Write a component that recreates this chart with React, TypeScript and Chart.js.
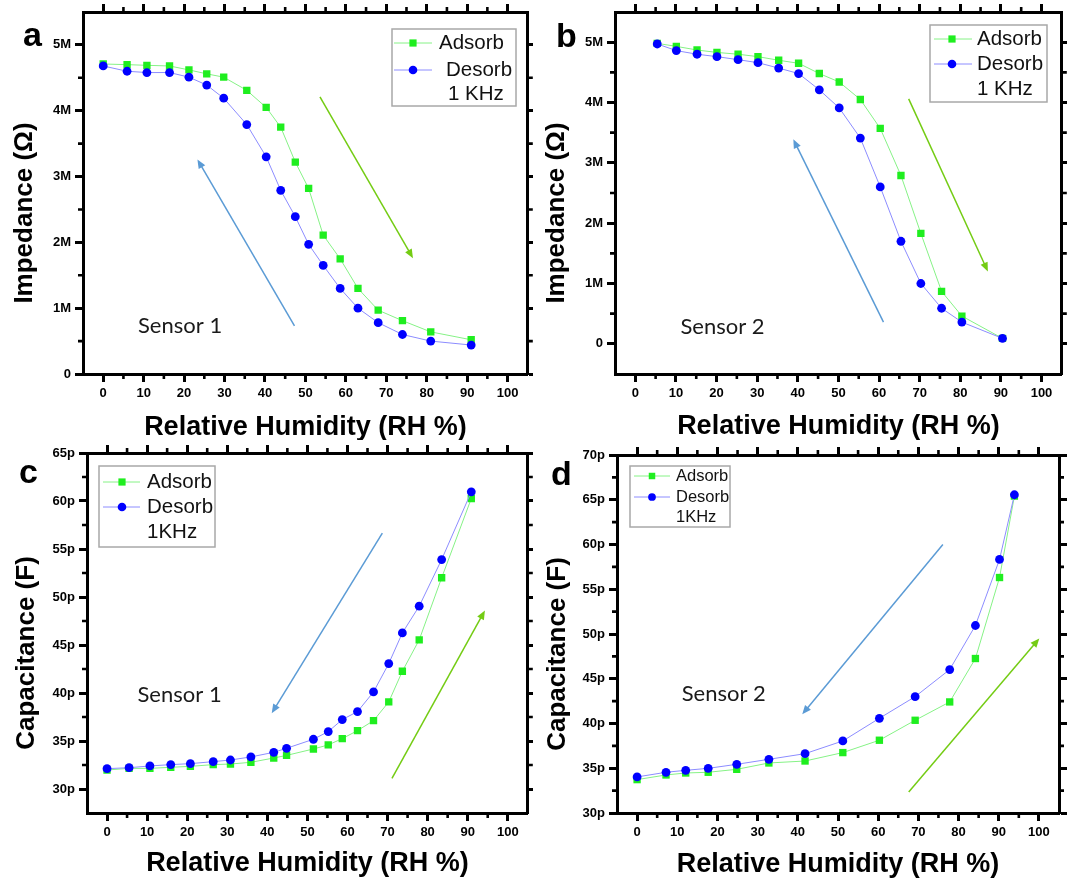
import React, { useEffect, useRef } from 'react';
import { Chart, registerables } from 'chart.js';

Chart.register(...registerables);

// ---------------- data ----------------
// Panel a – Sensor 1 impedance (MΩ) vs RH
const rhA = [0, 5.9, 10.8, 16.4, 21.2, 25.6, 29.8, 35.5, 40.3, 43.9, 47.5, 50.8, 54.4, 58.6, 63.0, 68.0, 74.0, 81.0, 91.0];
const zAdsorbA = [4.71, 4.70, 4.69, 4.68, 4.62, 4.56, 4.51, 4.31, 4.05, 3.75, 3.22, 2.82, 2.11, 1.75, 1.30, 0.97, 0.81, 0.64, 0.52];
const zDesorbA = [4.68, 4.60, 4.58, 4.58, 4.51, 4.39, 4.19, 3.79, 3.30, 2.79, 2.39, 1.97, 1.65, 1.30, 1.00, 0.78, 0.60, 0.50, 0.44];

// Panel b – Sensor 2 impedance (MΩ) vs RH
const rhB = [5.4, 10.1, 15.2, 20.1, 25.3, 30.2, 35.3, 40.2, 45.3, 50.2, 55.4, 60.3, 65.4, 70.3, 75.4, 80.4, 90.4];
const zAdsorbB = [4.98, 4.93, 4.87, 4.83, 4.80, 4.76, 4.70, 4.65, 4.48, 4.34, 4.05, 3.57, 2.79, 1.83, 0.87, 0.46, 0.09];
const zDesorbB = [4.97, 4.86, 4.80, 4.76, 4.71, 4.66, 4.57, 4.48, 4.21, 3.91, 3.41, 2.60, 1.70, 1.00, 0.59, 0.36, 0.09];

// Panel c – Sensor 1 capacitance (pF) vs RH
const rhC = [0, 5.5, 10.7, 15.9, 20.8, 26.5, 30.8, 35.9, 41.6, 44.8, 51.5, 55.2, 58.7, 62.5, 66.5, 70.3, 73.7, 77.9, 83.5, 90.9];
const cAdsorbC = [31.98, 32.15, 32.15, 32.26, 32.36, 32.54, 32.6, 32.78, 33.23, 33.5, 34.17, 34.59, 35.25, 36.08, 37.12, 39.07, 42.27, 45.53, 52.0, 60.26];
const cDesorbC = [32.12, 32.22, 32.4, 32.54, 32.64, 32.85, 33.02, 33.34, 33.82, 34.24, 35.18, 35.98, 37.23, 38.06, 40.11, 43.06, 46.26, 49.04, 53.9, 60.96];

// Panel d – Sensor 2 capacitance (pF) vs RH
const rhD = [0, 7.2, 12.1, 17.7, 24.8, 32.8, 41.8, 51.2, 60.3, 69.2, 77.8, 84.2, 90.2, 93.9];
const cAdsorbD = [33.73, 34.25, 34.47, 34.55, 34.88, 35.59, 35.81, 36.75, 38.13, 40.36, 42.41, 47.26, 56.31, 65.41];
const cDesorbD = [34.03, 34.55, 34.77, 34.99, 35.44, 36.0, 36.63, 38.05, 40.58, 43.0, 46.03, 50.95, 58.33, 65.56];

// ticks
const rhTicks = [0, 10, 20, 30, 40, 50, 60, 70, 80, 90, 100];
const rhMinor = [5, 15, 25, 35, 45, 55, 65, 75, 85, 95];
const impedanceTicks = [0, 1, 2, 3, 4, 5];
const impedanceMinor = [0.5, 1.5, 2.5, 3.5, 4.5];
const capTicksC = [30, 35, 40, 45, 50, 55, 60, 65];
const capMinorC = [32.5, 37.5, 42.5, 47.5, 52.5, 57.5, 62.5];
const capTicksD = [30, 35, 40, 45, 50, 55, 60, 65, 70];
const capMinorD = [32.5, 37.5, 42.5, 47.5, 52.5, 57.5, 62.5, 67.5];

// annotations in data coordinates: [x0, y0, x1(head), y1(head)]
const arrowsGreenA = [53.6, 4.21, 76.6, 1.76];
const arrowsBlueA = [47.3, 0.73, 23.3, 3.26];
const arrowsGreenB = [67.3, 4.06, 86.8, 1.2];
const arrowsBlueB = [61.1, 0.36, 38.9, 3.39];
const arrowsBlueC = [68.7, 56.65, 41.1, 37.9];
const arrowsGreenC = [71.1, 31.1, 94.3, 48.6];
const arrowsBlueD = [76.1, 60.0, 41.1, 41.03];
const arrowsGreenD = [67.6, 32.35, 100.1, 49.5];
const sensorAtA = [8.6, 0.625];
const sensorAtB = [11.1, 0.166];
const sensorAtC = [7.6, 39.03];
const sensorAtD = [11.1, 42.49];

const seriesLabels = ['Adsorb', 'Desorb'];

// ---------------- styles ----------------
const FONT = '"Liberation Sans", Arial, Helvetica, sans-serif';
const ADS_MARK = '#1fee1f';
const ADS_LINE = '#86f286';
const DES_MARK = '#0000ff';
const DES_LINE = '#8c8cff';
const ARROW_GREEN = '#74cc14';
const ARROW_BLUE = '#5b9bd5';

Chart.defaults.font.family = FONT;

const fmtM = (v: number) => (v === 0 ? '0' : `${v}M`);
const fmtP = (v: number) => `${v}p`;

type Panel = {
  letter: string;
  left: number; top: number; width: number; height: number;
  area: { l: number; t: number; r: number; b: number };
  yMin: number; yMax: number; yTicks: number[]; yMinor: number[]; yFmt: (v: number) => string;
  yTitle: string; xTitle: string; xTitleOffset: number; yTitleX: number;
  rh: number[]; ads: number[]; des: number[];
  freq: string; sensor: string; sensorAt: number[];
  arrows: { c: string; a: number[] }[];
  legend: { x: number; y: number; w: number; h: number; rows: number[]; lineX: number[]; markerX: number; textX: number[]; font: number; mk: number };
  letterAt: number[];
};

const panels: Panel[] = [
  {
    letter: 'a', left: 0, top: 0, width: 533, height: 440,
    area: { l: 83, t: 12, r: 530, b: 374 },
    yMin: 0, yMax: 5.5, yTicks: impedanceTicks, yMinor: impedanceMinor, yFmt: fmtM,
    yTitle: 'Impedance (Ω)', xTitle: 'Relative Humidity (RH %)', xTitleOffset: 12, yTitleX: 25,
    rh: rhA, ads: zAdsorbA, des: zDesorbA,
    freq: '1 KHz', sensor: 'Sensor 1', sensorAt: sensorAtA,
    arrows: [{ c: ARROW_GREEN, a: arrowsGreenA }, { c: ARROW_BLUE, a: arrowsBlueA }],
    legend: { x: 392, y: 29, w: 124, h: 77, rows: [43, 70, 94], lineX: [394, 432], markerX: 413, textX: [439, 446, 448], font: 20.5, mk: 1 },
    letterAt: [23, 46],
  },
  {
    letter: 'b', left: 533, top: 0, width: 534, height: 440,
    area: { l: 82, t: 12, r: 529, b: 374 },
    yMin: -0.5, yMax: 5.5, yTicks: impedanceTicks, yMinor: impedanceMinor, yFmt: fmtM,
    yTitle: 'Impedance (Ω)', xTitle: 'Relative Humidity (RH %)', xTitleOffset: 13, yTitleX: 557,
    rh: rhB, ads: zAdsorbB, des: zDesorbB,
    freq: '1 KHz', sensor: 'Sensor 2', sensorAt: sensorAtB,
    arrows: [{ c: ARROW_GREEN, a: arrowsGreenB }, { c: ARROW_BLUE, a: arrowsBlueB }],
    legend: { x: 930, y: 25, w: 117, h: 77, rows: [39, 64, 89], lineX: [934, 972], markerX: 952, textX: [977, 977, 977], font: 20.5, mk: 1 },
    letterAt: [556, 47],
  },
  {
    letter: 'c', left: 0, top: 440, width: 533, height: 439,
    area: { l: 87, t: 13, r: 529, b: 373 },
    yMin: 27.5, yMax: 65, yTicks: capTicksC, yMinor: capMinorC, yFmt: fmtP,
    yTitle: 'Capacitance (F)', xTitle: 'Relative Humidity (RH %)', xTitleOffset: 15, yTitleX: 27,
    rh: rhC, ads: cAdsorbC, des: cDesorbC,
    freq: '1KHz', sensor: 'Sensor 1', sensorAt: sensorAtC,
    arrows: [{ c: ARROW_BLUE, a: arrowsBlueC }, { c: ARROW_GREEN, a: arrowsGreenC }],
    legend: { x: 99, y: 466, w: 116, h: 81, rows: [482, 507, 532], lineX: [103, 140], markerX: 122, textX: [147, 147, 147], font: 20.5, mk: 1 },
    letterAt: [19, 483],
  },
  {
    letter: 'd', left: 533, top: 440, width: 534, height: 439,
    area: { l: 84, t: 15, r: 526, b: 373 },
    yMin: 30, yMax: 70, yTicks: capTicksD, yMinor: capMinorD, yFmt: fmtP,
    yTitle: 'Capacitance (F)', xTitle: 'Relative Humidity (RH %)', xTitleOffset: 14, yTitleX: 558,
    rh: rhD, ads: cAdsorbD, des: cDesorbD,
    freq: '1KHz', sensor: 'Sensor 2', sensorAt: sensorAtD,
    arrows: [{ c: ARROW_BLUE, a: arrowsBlueD }, { c: ARROW_GREEN, a: arrowsGreenD }],
    legend: { x: 630, y: 466, w: 100, h: 61, rows: [476, 497, 517], lineX: [634, 670], markerX: 652, textX: [676, 676, 676], font: 16.5, mk: 0.9 },
    letterAt: [551, 485],
  },
];

function drawArrow(ctx: CanvasRenderingContext2D, x0: number, y0: number, x1: number, y1: number, color: string) {
  const ang = Math.atan2(y1 - y0, x1 - x0);
  const hl = 9, hw = 3.8;
  const cos = Math.cos(ang), sin = Math.sin(ang);
  ctx.strokeStyle = color;
  ctx.fillStyle = color;
  ctx.lineWidth = 1.5;
  ctx.beginPath();
  ctx.moveTo(x0, y0);
  ctx.lineTo(x1 - hl * 0.7 * cos, y1 - hl * 0.7 * sin);
  ctx.stroke();
  ctx.beginPath();
  ctx.moveTo(x1, y1);
  ctx.lineTo(x1 - hl * cos + hw * sin, y1 - hl * sin - hw * cos);
  ctx.lineTo(x1 - hl * cos - hw * sin, y1 - hl * sin + hw * cos);
  ctx.closePath();
  ctx.fill();
}

function makeDecor(p: Panel) {
  return {
    id: 'decor' + p.letter,
    afterDraw(chart: any) {
      const ctx: CanvasRenderingContext2D = chart.ctx;
      const xs = chart.scales.x;
      const ys = chart.scales.y;
      const ca = chart.chartArea;
      const ox = p.left, oy = p.top;
      ctx.save();

      // minor ticks on all four sides
      ctx.strokeStyle = '#000';
      ctx.lineWidth = 2.6;
      ctx.beginPath();
      for (const v of rhMinor) {
        const px = xs.getPixelForValue(v);
        ctx.moveTo(px, ca.bottom + 1); ctx.lineTo(px, ca.bottom + 5);
        ctx.moveTo(px, ca.top - 1); ctx.lineTo(px, ca.top - 5);
      }
      for (const v of p.yMinor) {
        const py = ys.getPixelForValue(v);
        ctx.moveTo(ca.left - 1, py); ctx.lineTo(ca.left - 5, py);
        ctx.moveTo(ca.right + 1, py); ctx.lineTo(ca.right + 5, py);
      }
      ctx.stroke();

      // arrows
      for (const ar of p.arrows) {
        drawArrow(ctx, xs.getPixelForValue(ar.a[0]), ys.getPixelForValue(ar.a[1]),
          xs.getPixelForValue(ar.a[2]), ys.getPixelForValue(ar.a[3]), ar.c);
      }

      // sensor label
      ctx.fillStyle = '#1a1a1a';
      ctx.font = '22px Lato, "Open Sans", sans-serif';
      ctx.textAlign = 'left';
      ctx.textBaseline = 'alphabetic';
      ctx.fillText(p.sensor, xs.getPixelForValue(p.sensorAt[0]), ys.getPixelForValue(p.sensorAt[1]));

      // legend
      const L = p.legend;
      ctx.fillStyle = '#fff';
      ctx.fillRect(L.x - ox, L.y - oy, L.w, L.h);
      ctx.strokeStyle = '#a8a8a8';
      ctx.lineWidth = 1.5;
      ctx.strokeRect(L.x - ox, L.y - oy, L.w, L.h);
      const sty = [
        { line: ADS_LINE, mark: ADS_MARK, shape: 'rect' },
        { line: DES_LINE, mark: DES_MARK, shape: 'circle' },
      ];
      ctx.font = `${L.font}px ${FONT}`;
      ctx.textBaseline = 'middle';
      for (let i = 0; i < 2; i++) {
        const y = L.rows[i] - oy;
        ctx.strokeStyle = sty[i].line;
        ctx.lineWidth = 1;
        ctx.beginPath();
        ctx.moveTo(L.lineX[0] - ox, y); ctx.lineTo(L.lineX[1] - ox, y);
        ctx.stroke();
        ctx.fillStyle = sty[i].mark;
        const mx = L.markerX - ox;
        if (sty[i].shape === 'rect') {
          const s = 3.6 * L.mk;
          ctx.fillRect(mx - s, y - s, 2 * s, 2 * s);
        } else {
          ctx.beginPath();
          ctx.arc(mx, y, 4.3 * L.mk, 0, Math.PI * 2);
          ctx.fill();
        }
        ctx.fillStyle = '#111';
        ctx.fillText(chart.data.datasets[i].label, L.textX[i] - ox, y);
      }
      ctx.fillText(p.freq, L.textX[2] - ox, L.rows[2] - oy);

      // y-axis title
      ctx.save();
      ctx.translate(p.yTitleX - ox, (ca.top + ca.bottom) / 2 + 20);
      ctx.rotate(-Math.PI / 2);
      ctx.textAlign = 'center';
      ctx.textBaseline = 'middle';
      ctx.fillStyle = '#000';
      ctx.font = `bold 26px ${FONT}`;
      ctx.fillText(p.yTitle, 0, 0);
      ctx.restore();

      // panel letter
      ctx.fillStyle = '#000';
      ctx.font = `bold 34px ${FONT}`;
      ctx.textAlign = 'left';
      ctx.textBaseline = 'alphabetic';
      ctx.fillText(p.letter, p.letterAt[0] - ox, p.letterAt[1] - oy);

      ctx.restore();
    },
  };
}

function buildConfig(p: Panel): any {
  const tickFont = { family: FONT, size: 13, weight: 'bold' as const };
  const grid = { drawOnChartArea: false, drawTicks: true, tickLength: 8, tickWidth: 3, tickColor: '#000', color: '#000', lineWidth: 1 };
  const border = { display: true, color: '#000', width: 3 };
  const setTicks = (vals: number[]) => (s: any) => { s.ticks = vals.map((v) => ({ value: v })); };
  const titleLH = 0.8;
  const titleSize = 27;
  return {
    type: 'scatter',
    data: {
      datasets: [
        {
          label: seriesLabels[0],
          data: p.rh.map((x, i) => ({ x, y: p.ads[i] })),
          showLine: true, borderColor: ADS_LINE, borderWidth: 1, backgroundColor: ADS_MARK,
          pointBackgroundColor: ADS_MARK, pointBorderColor: ADS_MARK, pointBorderWidth: 0,
          pointStyle: 'rect', pointRadius: 5.2, pointHoverRadius: 5.2, order: 1,
          xAxisID: 'x', yAxisID: 'y',
        },
        {
          label: seriesLabels[1],
          data: p.rh.map((x, i) => ({ x, y: p.des[i] })),
          showLine: true, borderColor: DES_LINE, borderWidth: 1, backgroundColor: DES_MARK,
          pointBackgroundColor: DES_MARK, pointBorderColor: DES_MARK, pointBorderWidth: 0,
          pointStyle: 'circle', pointRadius: 4.4, pointHoverRadius: 4.4, order: 0,
          xAxisID: 'x', yAxisID: 'y',
        },
      ],
    },
    options: {
      responsive: false,
      maintainAspectRatio: false,
      animation: false,
      events: [],
      layout: { padding: { left: 0, top: p.area.t, right: p.width - p.area.r, bottom: 0 } },
      plugins: { legend: { display: false }, tooltip: { enabled: false }, title: { display: false } },
      scales: {
        x: {
          type: 'linear', position: 'bottom', min: -5, max: 105,
          afterBuildTicks: setTicks(rhTicks),
          afterFit: (s: any) => { s.height = p.height - p.area.b; },
          ticks: { callback: (v: number) => String(v), font: tickFont, color: '#000', padding: 4, maxRotation: 0, autoSkip: false },
          grid, border,
          title: {
            display: true, text: p.xTitle, color: '#000',
            font: { family: FONT, size: titleSize, weight: 'bold', lineHeight: titleLH },
            padding: { top: 0, bottom: p.xTitleOffset - (titleSize * titleLH) / 2 },
          },
        },
        x2: {
          type: 'linear', position: 'top', min: -5, max: 105,
          afterBuildTicks: setTicks(rhTicks),
          afterFit: (s: any) => { s.height = 0; },
          ticks: { display: false },
          grid, border,
        },
        y: {
          type: 'linear', position: 'left', min: p.yMin, max: p.yMax,
          afterBuildTicks: setTicks(p.yTicks),
          afterFit: (s: any) => { s.width = p.area.l; },
          ticks: { callback: (v: number) => p.yFmt(v), font: tickFont, color: '#000', padding: 4, autoSkip: false },
          grid, border,
        },
        y2: {
          type: 'linear', position: 'right', min: p.yMin, max: p.yMax,
          afterBuildTicks: setTicks(p.yTicks),
          afterFit: (s: any) => { s.width = 0; },
          ticks: { display: false },
          grid, border,
        },
      },
    },
    plugins: [makeDecor(p)],
  };
}

function PanelChart({ panel }: { panel: Panel }) {
  const ref = useRef<HTMLCanvasElement>(null);
  useEffect(() => {
    if (!ref.current) return;
    const chart = new Chart(ref.current, buildConfig(panel));
    return () => chart.destroy();
  }, [panel]);
  return (
    <canvas
      ref={ref}
      width={panel.width}
      height={panel.height}
      style={{ position: 'absolute', left: panel.left, top: panel.top, width: panel.width, height: panel.height }}
    />
  );
}

export default function App() {
  return (
    <div style={{ position: 'fixed', left: 0, top: 0, width: 1067, height: 879, background: '#fff', overflow: 'hidden' }}>
      {panels.map((p) => (
        <PanelChart key={p.letter} panel={p} />
      ))}
    </div>
  );
}
